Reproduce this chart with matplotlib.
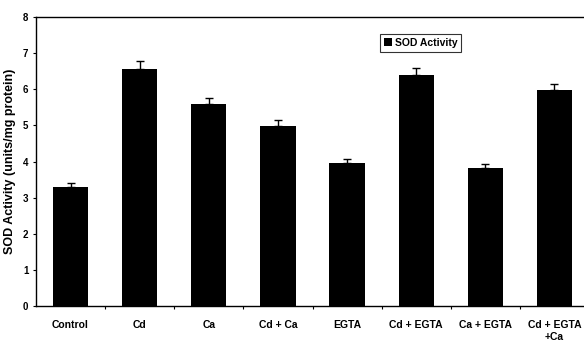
import matplotlib
matplotlib.use("Agg")
import matplotlib.pyplot as plt
from matplotlib import font_manager
import numpy as np

groups = ["Control", "Cd", "Ca", "Cd + Ca", "EGTA", "Cd + EGTA", "Ca + EGTA", "Cd + EGTA\n+Ca"]
sod_activity = [3.30, 6.56, 5.59, 4.99, 3.95, 6.40, 3.82, 5.97]
sod_error = [0.10, 0.22, 0.16, 0.15, 0.12, 0.18, 0.12, 0.17]
y_ticks = [0, 1, 2, 3, 4, 5, 6, 7, 8]

installed = {f.name for f in font_manager.fontManager.ttflist}
narrow = "Liberation Sans Narrow" if "Liberation Sans Narrow" in installed else "Liberation Sans"
plt.rcParams["font.family"] = [narrow, "DejaVu Sans"]
plt.rcParams["font.weight"] = "bold"

fig = plt.figure(figsize=(5.84, 3.41), dpi=100)
ax = fig.add_axes([36 / 584, 1 - 306 / 341, 553 / 584, 289 / 341])

x = np.arange(len(groups))
ax.bar(x, sod_activity, width=0.51, color="black", label="SOD Activity", zorder=2)
ax.errorbar(x, sod_activity, yerr=[np.zeros(len(x)), sod_error], fmt="none",
            ecolor="black", elinewidth=1.0, capsize=3, capthick=1.0, zorder=3)

ax.set_xlim(-0.5, 7.5)
ax.set_ylim(0, 8)
ax.set_yticks(y_ticks)
ax.set_yticklabels([str(v) for v in y_ticks], fontsize=7, fontweight="bold")

ax.set_xticks(x)
ax.set_xticklabels(groups, fontsize=7.5, fontweight="bold", linespacing=1.25)
ax.set_xticks(np.arange(0.5, 7.5, 1.0), minor=True)
ax.tick_params(axis="x", which="major", length=0, pad=10)
ax.tick_params(axis="x", which="minor", length=2.5, width=0.8, direction="out")
ax.tick_params(axis="y", length=2.5, width=0.8, direction="out", pad=3)

for side in ["left", "bottom", "top"]:
    ax.spines[side].set_linewidth(1.0)
    ax.spines[side].set_color("black")
ax.spines["right"].set_visible(False)

ax.set_ylabel("SOD Activity (units/mg protein)", fontsize=9, fontweight="bold",
              family=["Liberation Sans", "DejaVu Sans"], labelpad=5)

leg = ax.legend(loc="upper left", bbox_to_anchor=(0.622, 0.94),
                prop={"size": 7.5, "weight": "bold"},
                frameon=True, fancybox=False, edgecolor="black", handlelength=0.8,
                handleheight=0.8, handletextpad=0.3, borderpad=0.35, borderaxespad=0)
leg.get_frame().set_linewidth(0.8)

fig.savefig("out.png", dpi=100)
